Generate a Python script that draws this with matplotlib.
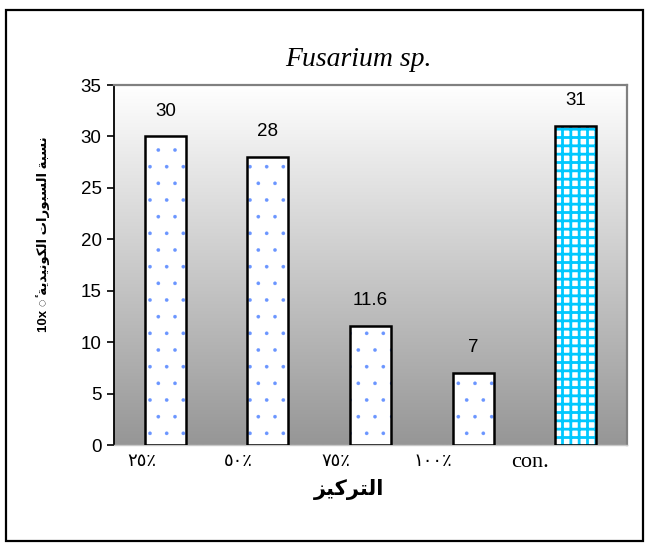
import numpy as np
import matplotlib
matplotlib.use("Agg")
import matplotlib.pyplot as plt
from matplotlib.colors import LinearSegmentedColormap
from matplotlib.patches import Rectangle
import unicodedata

# data
categories = ["٢٥٪", "٥٠٪", "٧٥٪", "١٠٠٪", "con."]
values = [30, 28, 11.6, 7, 31]
value_labels = ["30", "28", "11.6", "7", "31"]
title = "Fusarium sp."
xlabel = "التركيز"
ylabel = "نسبة السبورات الكونيدية \u25cc\u0654 10x"

# tiny arabic shaper (isolated, final, initial, medial)
FORMS = {
    'ا': ('\ufe8d', '\ufe8e', None, None),
    'ب': ('\ufe8f', '\ufe90', '\ufe91', '\ufe92'),
    'ة': ('\ufe93', '\ufe94', None, None),
    'ت': ('\ufe95', '\ufe96', '\ufe97', '\ufe98'),
    'د': ('\ufea9', '\ufeaa', None, None),
    'ر': ('\ufead', '\ufeae', None, None),
    'ز': ('\ufeaf', '\ufeb0', None, None),
    'س': ('\ufeb1', '\ufeb2', '\ufeb3', '\ufeb4'),
    'ك': ('\ufed9', '\ufeda', '\ufedb', '\ufedc'),
    'ل': ('\ufedd', '\ufede', '\ufedf', '\ufee0'),
    'ن': ('\ufee5', '\ufee6', '\ufee7', '\ufee8'),
    'و': ('\ufeed', '\ufeee', None, None),
    'ي': ('\ufef1', '\ufef2', '\ufef3', '\ufef4'),
}


def ar(text):
    out = []
    n = len(text)
    for i, c in enumerate(text):
        if c not in FORMS:
            out.append(c)
            continue
        prev = text[i - 1] if i > 0 else ''
        nxt = text[i + 1] if i < n - 1 else ''
        pj = prev in FORMS and FORMS[prev][2] is not None
        nj = nxt in FORMS and FORMS[c][2] is not None
        f = FORMS[c]
        if pj and nj:
            out.append(f[3])
        elif pj:
            out.append(f[1])
        elif nj:
            out.append(f[2])
        else:
            out.append(f[0])
    # group clusters (base + combining marks), reverse, keep latin runs LTR
    clusters = []
    for c in out:
        if clusters and unicodedata.combining(c):
            clusters[-1] += c
        else:
            clusters.append(c)
    clusters = clusters[::-1]
    res, run = [], []
    for c in clusters:
        if c.isascii() and c.isalnum():
            run.append(c)
        else:
            if run:
                res.extend(run[::-1])
                run = []
            res.append(c)
    res.extend(run[::-1])
    return ''.join(res)


fig = plt.figure(figsize=(6.48, 5.44), dpi=100)
ax = fig.add_axes([114 / 648, 1 - 445 / 544, 513 / 648, 360 / 544])

# gradient background of plot area
cmap = LinearSegmentedColormap.from_list("bg", ["#ffffff", "#969696"])
ax.imshow(np.linspace(0, 1, 256).reshape(-1, 1), cmap=cmap, aspect='auto',
          extent=(0, 1, 0, 1), transform=ax.transAxes, zorder=0)

x = np.arange(len(categories))
hatches = ['.', '.', '.', '.', '++']
hcolors = ['#6a95ff', '#6a95ff', '#6a95ff', '#6a95ff', '#00c8ff']
for xi, v, h, hc in zip(x, values, hatches, hcolors):
    b = ax.bar(xi, v, width=0.4, color='white', edgecolor=hc, linewidth=0,
               hatch=h, zorder=2)[0]
    if hasattr(b, 'set_hatch_linewidth'):
        b.set_hatch_linewidth(2.0 if h == '++' else 0.2)
ax.bar(x, values, width=0.4, fill=False, edgecolor='black', linewidth=1.8, zorder=3)

for xi, v, lab in zip(x, values, value_labels):
    ax.annotate(lab, (xi, v), xytext=(0, 12), textcoords='offset points',
                ha='center', va='bottom', fontsize=13.5,
                family=['Liberation Sans', 'DejaVu Sans'])

ax.set_xlim(-0.5, 4.5)
ax.set_ylim(0, 35)
ax.set_yticks(np.arange(0, 36, 5))
ax.tick_params(axis='y', direction='out', length=5, width=1.2, labelsize=13.5, pad=4)
for t in ax.get_yticklabels():
    t.set_family(['Liberation Sans', 'DejaVu Sans'])

# tick labels sit a bit left of the bars in the original
ax.set_xticks(x * 0.945 - 0.23)
ax.set_xticklabels(categories, family=['Liberation Serif', 'DejaVu Sans'], fontsize=13)
ax.get_xticklabels()[-1].set_fontsize(16)
ax.tick_params(axis='x', length=0, pad=6)

for s in ['top', 'right']:
    ax.spines[s].set_color('#808080')
    ax.spines[s].set_linewidth(1.6)
ax.spines['left'].set_color('black')
ax.spines['left'].set_linewidth(1.3)
ax.spines['bottom'].set_color('#c8c8c8')
ax.spines['bottom'].set_linewidth(1.0)

fig.text(358 / 648, 1 - 60 / 544, title, ha='center', va='center',
         family='Liberation Serif', style='italic', fontsize=20)
fig.text(349 / 648, 1 - 489 / 544, ar(xlabel), ha='center', va='center',
         family=['Liberation Sans', 'DejaVu Sans'], fontweight='bold', fontsize=15)
fig.text(43 / 648, 1 - 234 / 544, ar(ylabel), ha='center', va='center', rotation=90,
         family=['Liberation Sans', 'DejaVu Sans'], fontweight='bold', fontsize=9.5)

fig.patches.append(Rectangle((6 / 648, 1 - 541 / 544), 637 / 648, 531 / 544,
                             transform=fig.transFigure, fill=False,
                             edgecolor='black', linewidth=1.6))

fig.savefig("out.png", dpi=100)
